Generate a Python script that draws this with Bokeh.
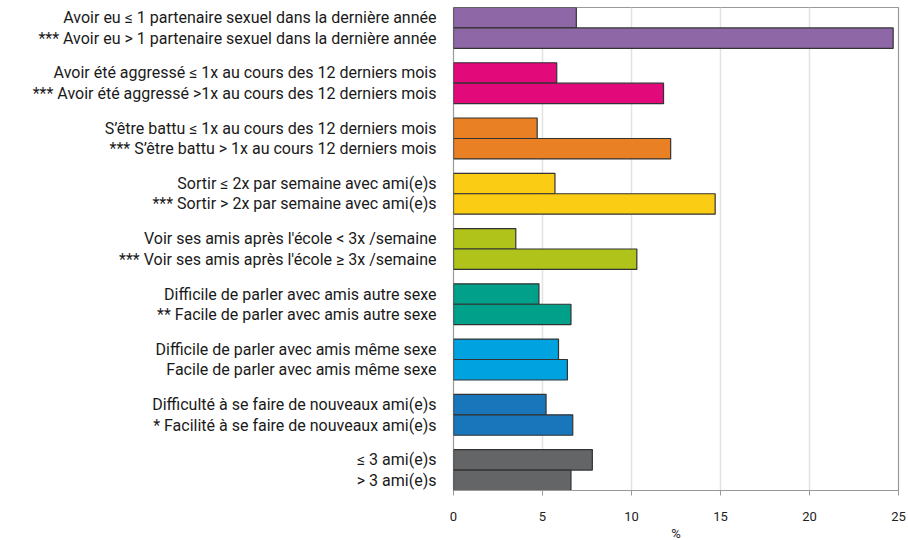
from bokeh.plotting import figure
from bokeh.models import Range1d, FixedTicker
from bokeh.embed import file_html
from bokeh.resources import INLINE

labels = [
    "Avoir eu \u2264 1 partenaire sexuel dans la derni\u00e8re ann\u00e9e",
    "*** Avoir eu > 1 partenaire sexuel dans la derni\u00e8re ann\u00e9e",
    "Avoir \u00e9t\u00e9 aggress\u00e9 \u2264 1x au cours des 12 derniers mois",
    "*** Avoir \u00e9t\u00e9 aggress\u00e9 >1x au cours des 12 derniers mois",
    "S\u2019\u00eatre battu \u2264 1x au cours des 12 derniers mois",
    "*** S\u2019\u00eatre battu > 1x au cours 12 derniers mois",
    "Sortir \u2264 2x par semaine avec ami(e)s",
    "*** Sortir > 2x par semaine avec ami(e)s",
    "Voir ses amis apr\u00e8s l'\u00e9cole < 3x /semaine",
    "*** Voir ses amis apr\u00e8s l'\u00e9cole \u2265 3x /semaine",
    "Difficile de parler avec amis autre sexe",
    "** Facile de parler avec amis autre sexe",
    "Difficile de parler avec amis m\u00eame sexe",
    "Facile de parler avec amis m\u00eame sexe",
    "Difficult\u00e9 \u00e0 se faire de nouveaux ami(e)s",
    "* Facilit\u00e9 \u00e0 se faire de nouveaux ami(e)s",
    "\u2264 3 ami(e)s",
    "> 3 ami(e)s",
]
values = [6.9, 24.7, 5.8, 11.8, 4.7, 12.2, 5.7, 14.7, 3.5, 10.3,
          4.8, 6.6, 5.9, 6.4, 5.2, 6.7, 7.8, 6.6]
group_colors = ["#8E68A6", "#E2097A", "#E98023", "#FBCC14", "#B0C31B",
                "#00A08A", "#00A2DF", "#1A76BA", "#646566"]
x_ticks = [0, 5, 10, 15, 20, 25]

gap = 0.70
ys = []
colors = []
for i in range(len(labels)):
    g, j = divmod(i, 2)
    ys.append(g * (2 + gap) + j + 0.5)
    colors.append(group_colors[g])
n_groups = len(group_colors)
y_max = n_groups * 2 + (n_groups - 1) * gap

p = figure(width=906, height=538, output_backend="svg", toolbar_location=None,
           x_range=Range1d(0, 25), y_range=Range1d(y_max, 0),
           frame_width=445, frame_height=483,
           min_border_left=453, min_border_right=8, min_border_top=7, min_border_bottom=48)

p.hbar(y=ys, right=values, left=0, height=1.0, fill_color=colors,
       line_color="#333333", line_width=1.2)

p.xaxis.ticker = FixedTicker(ticks=x_ticks)
p.xaxis.axis_line_color = "#999999"
p.xaxis.major_tick_line_color = "#999999"
p.xaxis.major_tick_out = 5
p.xaxis.major_tick_in = 0
p.xaxis.minor_tick_line_color = None
p.xaxis.major_label_text_font = "Roboto"
p.xaxis.major_label_text_font_size = "13px"
p.xaxis.major_label_text_color = "#222222"
p.xaxis.major_label_standoff = 16
p.xaxis.axis_label = "%"
p.xaxis.axis_label_text_font = "Roboto"
p.xaxis.axis_label_text_font_style = "normal"
p.xaxis.axis_label_text_font_size = "13px"
p.xaxis.axis_label_text_color = "#222222"
p.xaxis.axis_label_standoff = 2

p.yaxis.ticker = FixedTicker(ticks=ys)
p.yaxis.major_label_overrides = {y: lab for y, lab in zip(ys, labels)}
p.yaxis.axis_line_color = None
p.yaxis.major_tick_line_color = None
p.yaxis.minor_tick_line_color = None
p.yaxis.major_label_text_font = "Roboto"
p.yaxis.major_label_text_font_size = "16px"
p.yaxis.major_label_text_color = "#1a1a1a"
p.yaxis.major_label_standoff = 11

p.ygrid.grid_line_color = None
p.xgrid.grid_line_color = "#e2e2e2"
p.xgrid.grid_line_width = 1.5
p.outline_line_color = "#999999"
p.outline_line_width = 1.2

open("out.html", "w").write(file_html(p, INLINE))
